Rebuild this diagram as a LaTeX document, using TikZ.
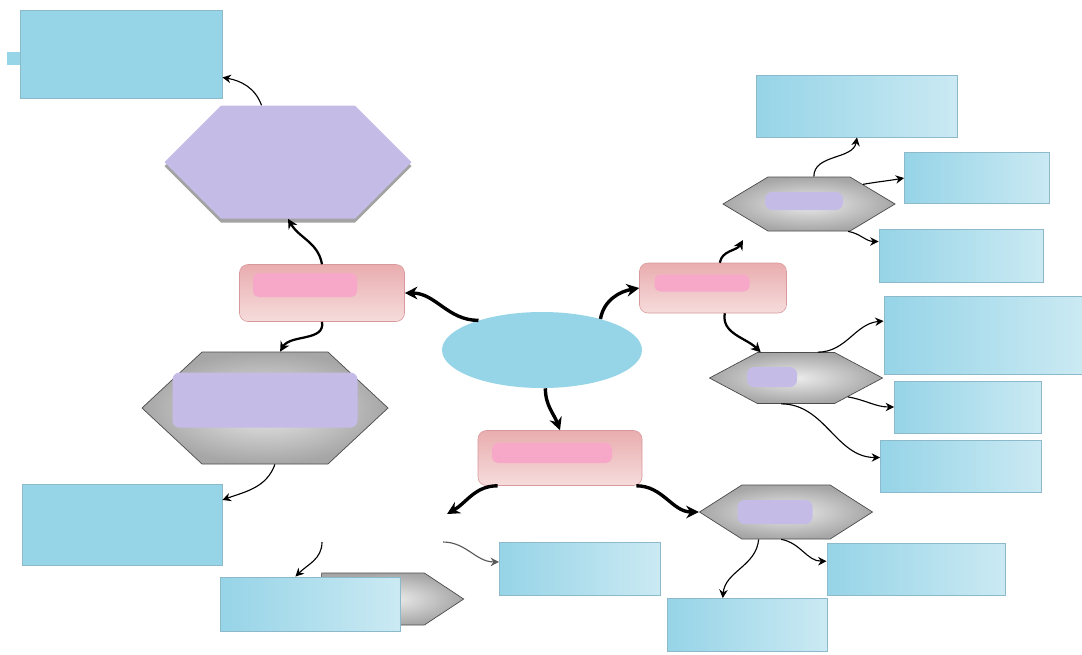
\documentclass[tikz,border=0pt]{standalone}
\usetikzlibrary{shapes.geometric,shapes.symbols,arrows.meta,shadows}

\definecolor{sky}{HTML}{96D4E7}
\definecolor{skyedge}{HTML}{8DBACA}
\definecolor{lav}{HTML}{C4BBE6}
\definecolor{pinkedge}{HTML}{D9989B}
\definecolor{pinktop}{HTML}{E9ADAF}
\definecolor{pinkbot}{HTML}{F6DCDC}
\definecolor{pinkink}{HTML}{F7A7C8}

\tikzset{
    sz/.style 2 args={minimum width=#1*0.025cm, minimum height=#2*0.025cm},
    bluebox/.style={rectangle, inner sep=0pt, draw=skyedge, line width=0.6pt,
        left color=sky, middle color=sky, right color=sky!50!white},
    bluesolid/.style={rectangle, inner sep=0pt, draw=skyedge, line width=0.6pt, fill=sky},
    pinkbox/.style={rectangle, rounded corners=6pt, inner sep=0pt, draw=pinkedge,
        top color=pinktop, bottom color=pinkbot},
    greyhex/.style={signal, signal to=east and west, inner sep=0pt, draw=gray!60!black,
        line width=0.5pt, inner color=gray!15, outer color=gray!70},
    lavhex/.style={signal, signal to=east and west, inner sep=0pt, fill=lav,
        drop shadow={shadow xshift=0pt, shadow yshift=-3pt, fill=gray!80, opacity=0.9}},
    centre/.style={ellipse, inner sep=0pt, fill=sky},
    pinkmark/.style={rectangle, rounded corners=4pt, inner sep=0pt, fill=pinkink},
    lavmark/.style={rectangle, rounded corners=5pt, inner sep=0pt, fill=lav},
    bigarrow/.style={-{Stealth[length=9pt, width=9pt]}, line width=2.4pt},
    midarrow/.style={-{Stealth[length=7pt, width=7pt]}, line width=1.6pt},
    thinarrow/.style={-{Stealth[length=6pt, width=6pt]}, line width=0.8pt}
}

\begin{document}
\begin{tikzpicture}[x=0.025cm, y=0.025cm]
    % Page
    \fill[white] (0,0) rectangle (1082,-654);
    \useasboundingbox (0,0) rectangle (1082,-654);

    % Left branch
    \fill[sky] (7,-52) rectangle (22,-65);
    \node[bluesolid, sz={202}{88}] (tl) at (121,-54) {};
    \node[lavhex, signal pointer angle=90, sz={247}{113}] (hexA) at (288,-162) {};
    \node[pinkbox, sz={165}{57}] (pinkL) at (322,-293) {};
    \node[pinkmark, sz={104}{24}] (pinkLink) at (305,-285) {};
    \node[greyhex, signal pointer angle=86, sz={246}{112}] (hexB) at (265,-408) {};
    \node[lavmark, sz={185}{55}] (hexBink) at (265,-400) {};
    \node[bluesolid, sz={200}{81}] (bl1) at (122,-525) {};
    \node[greyhex, signal to=east, signal pointer angle=67, sz={142}{52}] (tag) at (373,-599) {};
    \node[bluebox, sz={180}{54}] (bl2) at (310,-604) {};

    % Centre and its three boxes
    \node[centre, sz={200}{76}] (ell) at (542,-350) {};
    \node[pinkbox, sz={164}{55}] (pinkB) at (560,-458) {};
    \node[pinkmark, sz={120}{20}] (pinkBink) at (552,-453) {};
    \node[pinkbox, sz={147}{50}] (pinkR) at (713,-288) {};
    \node[pinkmark, sz={95}{17}] (pinkRink) at (702,-283) {};

    % Right hexagons
    \node[greyhex, signal pointer angle=62, sz={172}{54}] (hexC) at (809,-204) {};
    \node[lavmark, sz={78}{18}] (hexCink) at (804,-201) {};
    \node[greyhex, signal pointer angle=56, sz={173}{51}] (hexD) at (796,-378) {};
    \node[lavmark, sz={50}{20}] (hexDink) at (772,-377) {};
    \node[greyhex, signal pointer angle=65, sz={173}{54}] (hexE) at (786,-512) {};
    \node[lavmark, sz={75}{24}] (hexEink) at (775,-512) {};

    % Right boxes
    \node[bluebox, sz={201}{62}] (r1) at (857,-106) {};
    \node[bluebox, sz={145}{51}] (r2) at (977,-178) {};
    \node[bluebox, sz={164}{53}] (r3) at (961,-256) {};
    \node[bluebox, sz={198}{78}] (r4) at (983,-335) {};
    \node[bluebox, sz={147}{52}] (r5) at (968,-407) {};
    \node[bluebox, sz={161}{52}] (r6) at (961,-466) {};

    % Bottom boxes
    \node[bluebox, sz={161}{53}] (b1) at (580,-569) {};
    \node[bluebox, sz={178}{52}] (b2) at (916,-569) {};
    \node[bluebox, sz={160}{53}] (b3) at (747,-625) {};

    % Loose ends
    \coordinate (endA) at (447,-514);
    \coordinate (tipC) at (743,-240);
    \coordinate (startB) at (322,-542);
    \coordinate (startC) at (443,-542);

    % Thick arrows
    \draw[bigarrow] (ell.155) to[out=180, in=0] (pinkL.east);
    \draw[bigarrow] (ell.28) to[out=80, in=190] (pinkR.west);
    \draw[bigarrow] (ell.-85) to[out=-90, in=110] (pinkB.north);
    \draw[bigarrow] (pinkB.-156) to[out=180, in=30] (endA);
    \draw[bigarrow] (pinkB.-20) to[out=0, in=180] (hexE.west);
    \draw[midarrow] (pinkL.north) to[out=100, in=-60] (hexA.south);
    \draw[midarrow] (pinkL.south) to[out=-80, in=60] (hexB.75);
    \draw[midarrow] (pinkR.75) to[out=80, in=-120] (tipC);
    \draw[midarrow] (pinkR.-65) to[out=-100, in=135] (hexD.144);

    % Thin arrows
    \draw[thinarrow] (hexA.115) to[out=110, in=-10] (tl.-13);
    \draw[thinarrow] (hexB.-80) to[out=-110, in=20] (bl1.14);
    \draw[thinarrow] (hexC.80) to[out=90, in=-100] (r1.south);
    \draw[thinarrow] (hexC.20) to[out=10, in=190] (r2.west);
    \draw[thinarrow] (hexC.-35) to[out=-10, in=180] (r3.170);
    \draw[thinarrow] (hexD.50) to[out=0, in=185] (r4.172);
    \draw[thinarrow] (hexD.-20) to[out=-10, in=180] (r5.west);
    \draw[thinarrow] (hexD.-120) to[out=0, in=180] (r6.174);
    \draw[thinarrow] (hexE.-135) to[out=-95, in=85] (b3.132);
    \draw[thinarrow] (hexE.-100) to[out=-10, in=180] (b2.175);
    \draw[thinarrow] (startB) to[out=-90, in=45] (bl2.118);
    \draw[thinarrow, gray!70!black] (startC) to[out=0, in=180] (b1.175);

\end{tikzpicture}
\end{document}
